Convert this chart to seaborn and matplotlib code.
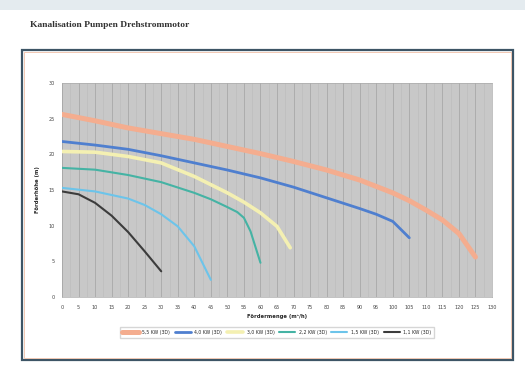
import pandas as pd
import matplotlib.pyplot as plt
import numpy as np
import seaborn as sns
from matplotlib.patches import Rectangle

# Pump curves (flow m3/h, head m)
labels = ['5,5 KW (3D)', '4,0 KW (3D)', '3,0 KW (3D)', '2,2 KW (3D)', '1,5 KW (3D)', '1,1 KW (3D)']

flow_55 = [0, 10, 20, 30, 40, 50, 60, 70, 80, 90, 100, 105, 110, 115, 120, 125]
head_55 = [25.6, 24.7, 23.7, 22.9, 22.1, 21.1, 20.1, 19.0, 17.8, 16.4, 14.6, 13.5, 12.2, 10.8, 8.9, 5.6]

flow_40 = [0, 10, 20, 30, 40, 50, 60, 70, 80, 90, 95, 100, 105]
head_40 = [21.8, 21.3, 20.7, 19.8, 18.8, 17.8, 16.7, 15.4, 13.9, 12.4, 11.6, 10.6, 8.3]

flow_30 = [0, 10, 20, 30, 40, 50, 55, 60, 65, 69]
head_30 = [20.4, 20.3, 19.7, 18.8, 16.9, 14.6, 13.3, 11.8, 9.9, 6.9]

flow_22 = [0, 10, 20, 30, 40, 45, 50, 53, 55, 57, 60]
head_22 = [18.1, 17.85, 17.1, 16.1, 14.6, 13.7, 12.6, 11.9, 11.1, 9.2, 4.8]

flow_15 = [0, 10, 20, 25, 30, 35, 40, 45]
head_15 = [15.3, 14.8, 13.8, 12.9, 11.6, 9.9, 7.1, 2.4]

flow_11 = [0, 5, 10, 15, 20, 25, 30]
head_11 = [14.8, 14.4, 13.2, 11.4, 9.1, 6.4, 3.6]

x_ticks = list(range(0, 135, 5))
y_ticks = [0, 5, 10, 15, 20, 25, 30]

flows = [flow_55, flow_40, flow_30, flow_22, flow_15, flow_11]
heads = [head_55, head_40, head_30, head_22, head_15, head_11]
colors = ['#f4ad8f', '#4f7fcf', '#f4f0b2', '#45b3a4', '#6cc4ea', '#3c3c3c']
widths = [3.6, 2.0, 2.6, 1.5, 1.5, 1.5]

df = pd.concat([pd.DataFrame({'flow': f, 'head': h, 'pump': l})
                for f, h, l in zip(flows, heads, labels)])

sns.set_style('white')
fig = plt.figure(figsize=(5.25, 3.71), dpi=100)

# page decoration: top band and chart frame
fig.patches.append(Rectangle((0, 1 - 10 / 371), 1, 10 / 371, transform=fig.transFigure,
                             facecolor='#e4ebef', edgecolor='none', zorder=-2))
fig.patches.append(Rectangle((22 / 525, 1 - 360 / 371), 491 / 525, 310 / 371,
                             transform=fig.transFigure, facecolor='white',
                             edgecolor='#3d5566', linewidth=1.6, zorder=-2))
fig.patches.append(Rectangle((24 / 525, 1 - 358 / 371), 487 / 525, 306 / 371,
                             transform=fig.transFigure, facecolor='none',
                             edgecolor='#f0c0a8', linewidth=0.6, zorder=-1))

fig.text(30 / 525, 1 - 25 / 371, 'Kanalisation Pumpen Drehstrommotor',
         family='Liberation Serif', fontsize=6.8, fontweight='bold', color='#333333', va='center')

ax = fig.add_axes([62 / 525, 1 - 297 / 371, 430 / 525, 214 / 371])
ax.set_zorder(1)
ax.set_facecolor('#c8c8c8')

for (lbl, grp), c, w in zip(df.groupby('pump', sort=False), colors, widths):
    sns.lineplot(data=grp, x='flow', y='head', color=c, linewidth=w, label=lbl,
                 ax=ax, sort=False, zorder=3)

ax.set_xlim(0, 130)
ax.set_ylim(0, 30)
ax.set_xticks(x_ticks)
ax.set_yticks(y_ticks)
ax.set_xticks(np.arange(0, 130, 2.5), minor=True)
ax.grid(axis='x', which='major', color='#a8a8a8', linewidth=0.6)
ax.grid(axis='x', which='minor', color='#bababa', linewidth=0.4)
ax.tick_params(axis='both', labelsize=3.5, length=2, width=0.4, colors='#444444')
ax.tick_params(which='minor', length=0)
for s in ax.spines.values():
    s.set_color('#aaaaaa')
    s.set_linewidth(0.5)

ax.set_xlabel('Fördermenge (m³/h)', fontsize=3.8, fontweight='bold', labelpad=3)
ax.set_ylabel('Förderhöhe (m)', fontsize=3.8, fontweight='bold', labelpad=6)

ax.legend(loc='upper center', bbox_to_anchor=(0.5, -0.13), ncol=6, fontsize=3.3,
          frameon=True, edgecolor='#cccccc', fancybox=False, handlelength=3.5,
          columnspacing=1.0, borderpad=0.6)

fig.savefig('out.png', dpi=100)
